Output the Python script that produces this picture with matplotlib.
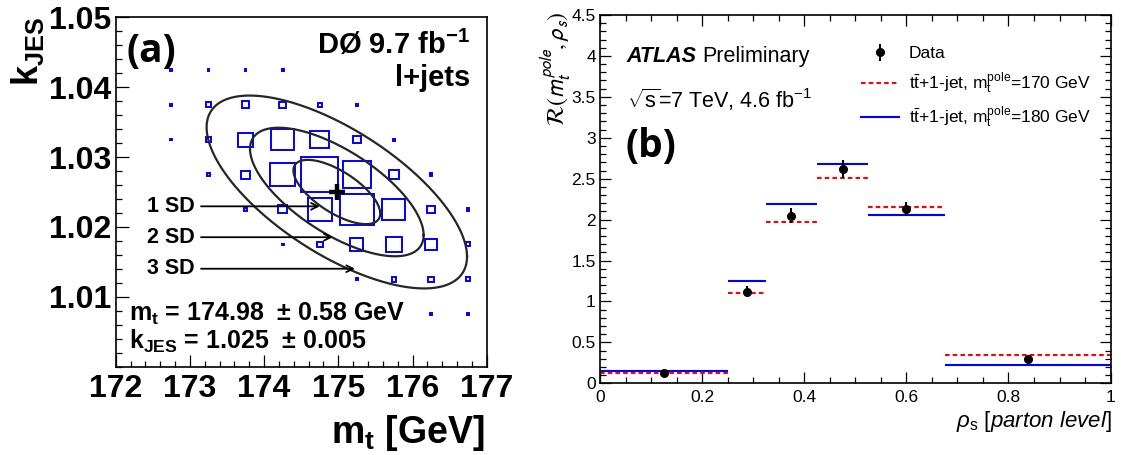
"""Two-panel top-mass figure: D0 (mt, kJES) likelihood boxes and ATLAS R(mt, rho_s)."""

import matplotlib
import matplotlib.pyplot as plt
import numpy as np
from matplotlib.lines import Line2D
from matplotlib.patches import Rectangle
from matplotlib.ticker import FuncFormatter, MultipleLocator

matplotlib.use("Agg")

plt.rcParams.update({
    "font.family": ["Liberation Sans", "DejaVu Sans"],
    "mathtext.fontset": "custom",
    "mathtext.rm": "Liberation Sans",
    "mathtext.it": "Liberation Sans:italic",
    "mathtext.bf": "Liberation Sans:bold",
    "mathtext.sf": "Liberation Sans",
})

# ---- panel (a): D0 l+jets, box sizes (relative to largest) ----
MT_CENTERS = [172.75, 173.25, 173.75, 174.25, 174.75, 175.25, 175.75, 176.25, 176.75]
KJES_CENTERS = [1.0425, 1.0375, 1.0325, 1.0275, 1.0225, 1.0175, 1.0125, 1.0075]
BOX_FRACTION = [
    [0.05, 0.05, 0.05, 0.05, 0.00, 0.00, 0.00, 0.00, 0.00],
    [0.05, 0.14, 0.20, 0.17, 0.11, 0.05, 0.00, 0.00, 0.00],
    [0.05, 0.13, 0.40, 0.62, 0.50, 0.20, 0.06, 0.00, 0.00],
    [0.00, 0.06, 0.23, 0.67, 1.00, 0.75, 0.27, 0.07, 0.00],
    [0.00, 0.00, 0.07, 0.23, 0.65, 0.90, 0.62, 0.22, 0.07],
    [0.00, 0.00, 0.00, 0.05, 0.15, 0.35, 0.45, 0.30, 0.11],
    [0.00, 0.00, 0.00, 0.00, 0.00, 0.06, 0.13, 0.14, 0.11],
    [0.00, 0.00, 0.00, 0.00, 0.00, 0.00, 0.00, 0.05, 0.05],
]
MT_BIN = 0.5
KJES_BIN = 0.005

MT_FIT = 174.98
KJES_FIT = 1.025
MT_SIGMA = 0.585
KJES_SIGMA = 0.0046
CORRELATION = -0.67

SD_LEVELS = [1, 2, 3]
SD_ARROW_Y = [1.02295, 1.01853, 1.01402]
SD_ARROW_END = [174.75, 174.925, 175.225]

# ---- panel (b): ATLAS R(mt_pole, rho_s) ----
RHO_EDGES = [0.0, 0.25, 0.325, 0.425, 0.525, 0.675, 1.0]
DATA_R = [0.12, 1.12, 2.05, 2.62, 2.13, 0.30]
DATA_ERR = [0.03, 0.065, 0.095, 0.11, 0.09, 0.03]
PRED_170 = [0.13, 1.105, 1.975, 2.505, 2.15, 0.35]
PRED_180 = [0.15, 1.25, 2.19, 2.68, 2.06, 0.22]

W, H = 1121, 455
fig = plt.figure(figsize=(W / 100, H / 100), dpi=100)


def px_axes(left, top, right, bottom):
    return [left / W, 1 - bottom / H, (right - left) / W, (bottom - top) / H]


# ================= panel (a) =================
ax1 = fig.add_axes(px_axes(115.7, 17.3, 486.7, 366.7))
ax1.set_xlim(172, 177)
ax1.set_ylim(1.0, 1.05)

for j, kj in enumerate(KJES_CENTERS):
    for i, mt in enumerate(MT_CENTERS):
        frac = BOX_FRACTION[j][i]
        if frac <= 0:
            continue
        w = frac * MT_BIN
        h = frac * KJES_BIN
        ax1.add_patch(Rectangle((mt - w / 2, kj - h / 2), w, h, fill=False,
                                edgecolor="#0000ff", linewidth=1.4))

t = np.linspace(0, 2 * np.pi, 400)
for n in SD_LEVELS:
    ex = MT_FIT + n * MT_SIGMA * np.cos(t)
    ey = KJES_FIT + n * KJES_SIGMA * (CORRELATION * np.cos(t)
                                      + np.sqrt(1 - CORRELATION ** 2) * np.sin(t))
    ax1.plot(ex, ey, color="#262626", linewidth=1.6)

ax1.plot([MT_FIT], [KJES_FIT], marker="+", color="black", markersize=11,
         markeredgewidth=3.2)

for n, y, xend in zip(SD_LEVELS, SD_ARROW_Y, SD_ARROW_END):
    ax1.annotate("", xy=(xend, y), xytext=(173.15, y),
                 arrowprops=dict(arrowstyle="->", color="black", lw=1.3,
                                 mutation_scale=12, shrinkA=0, shrinkB=0))
    ax1.text(173.07, y, f"{n} SD", ha="right", va="center", fontsize=15.5,
             fontweight="bold")

ax1.text(0.955, 0.9207, r"DØ 9.7 fb$^{\mathbf{-1}}$", transform=ax1.transAxes,
         ha="right", va="center", fontsize=21, fontweight="bold")
ax1.text(0.955, 0.8255, "l+jets", transform=ax1.transAxes,
         ha="right", va="center", fontsize=21, fontweight="bold")
ax1.text(0.0296, 0.9016, "(a)", transform=ax1.transAxes, ha="left", va="center",
         fontsize=28, fontweight="bold", family=["Open Sans", "DejaVu Sans"])
ax1.text(0.0367, 0.1308, r"m$_{\mathbf{t}}$ = 174.98  ± 0.58 GeV",
         transform=ax1.transAxes, ha="left", va="baseline", fontsize=18,
         fontweight="bold")
ax1.text(0.0367, 0.0498, r"k$_{\mathbf{JES}}$ = 1.025  ± 0.005",
         transform=ax1.transAxes, ha="left", va="baseline", fontsize=18,
         fontweight="bold")

ax1.set_xticks([172, 173, 174, 175, 176, 177])
ax1.set_yticks([1.01, 1.02, 1.03, 1.04, 1.05])
ax1.xaxis.set_minor_locator(MultipleLocator(0.2))
ax1.yaxis.set_minor_locator(MultipleLocator(0.002))
ax1.yaxis.set_major_formatter(FuncFormatter(lambda v, p: f"{v:.2f}"))
ax1.tick_params(which="both", direction="in", top=False, right=False,
                width=0.9, labelsize=23)
ax1.tick_params(which="major", length=9)
ax1.tick_params(which="minor", length=4)
ax1.tick_params(axis="x", pad=5)
ax1.tick_params(axis="y", pad=3)
for lab in ax1.get_xticklabels() + ax1.get_yticklabels():
    lab.set_fontweight("bold")
for sp in ax1.spines.values():
    sp.set_linewidth(1.2)

fig.text(485 / W, 1 - 433 / H, r"m$_{\mathbf{t}}$ [GeV]", ha="right", va="center",
         fontsize=27, fontweight="bold")
fig.text(28 / W, 1 - 17 / H, r"k$_{\mathbf{JES}}$", rotation=90, ha="center",
         va="top", fontsize=26, fontweight="bold")

# ================= panel (b) =================
ax2 = fig.add_axes(px_axes(600, 15, 1110.6, 383.3))
ax2.set_xlim(0, 1)
ax2.set_ylim(0, 4.5)

edges = np.array(RHO_EDGES)
centers = 0.5 * (edges[:-1] + edges[1:])
dash = (0, (2.2, 1.5))
ax2.hlines(PRED_180, edges[:-1], edges[1:], colors="#0000ff", linewidth=1.5)
ax2.hlines(PRED_170, edges[:-1], edges[1:], colors="#ff0000", linewidth=1.5,
           linestyles=[dash])
data = ax2.errorbar(centers, DATA_R, yerr=DATA_ERR, fmt="o", color="black",
                    markersize=5.5, elinewidth=1.5, capsize=0)

handles = [
    data,
    Line2D([], [], color="#ff0000", linewidth=1.5, linestyle=dash),
    Line2D([], [], color="#0000ff", linewidth=1.5),
]
labels = [
    "Data",
    r"t$\bar{\rm t}$+1-jet, m$_{\rm t}^{\rm pole}$=170 GeV",
    r"t$\bar{\rm t}$+1-jet, m$_{\rm t}^{\rm pole}$=180 GeV",
]
ax2.legend(handles, labels, loc="upper left", bbox_to_anchor=(0.511, 0.915),
           frameon=False, fontsize=12.5, handlelength=2.2, handletextpad=0.55,
           labelspacing=0.5, borderaxespad=0, borderpad=0)

atl = ax2.text(0.0523, 0.8716, "ATLAS", transform=ax2.transAxes, ha="left",
               va="baseline", fontsize=15.5, fontweight="bold", fontstyle="italic")
ax2.annotate("Preliminary", xy=(1, 0), xycoords=atl, xytext=(4, 0),
             textcoords="offset points", ha="left", va="bottom", fontsize=15.5)
ax2.text(0.0523, 0.747, r"$\sqrt{\rm s}$=7 TeV, 4.6 fb$^{-1}$",
         transform=ax2.transAxes, ha="left", va="baseline", fontsize=15.5)
ax2.text(0.049, 0.642, "(b)", transform=ax2.transAxes, ha="left", va="center",
         fontsize=28, fontweight="bold", family=["Open Sans", "DejaVu Sans"])

ax2.xaxis.set_major_locator(MultipleLocator(0.2))
ax2.xaxis.set_minor_locator(MultipleLocator(0.05))
ax2.yaxis.set_major_locator(MultipleLocator(0.5))
ax2.yaxis.set_minor_locator(MultipleLocator(0.1))
ax2.xaxis.set_major_formatter(FuncFormatter(lambda v, p: f"{v:g}"))
ax2.yaxis.set_major_formatter(FuncFormatter(lambda v, p: f"{v:g}"))
ax2.tick_params(which="both", direction="in", top=True, right=True,
                width=0.9, labelsize=12.5)
ax2.tick_params(which="major", length=8)
ax2.tick_params(which="minor", length=4)
ax2.tick_params(axis="x", pad=5)
ax2.tick_params(axis="y", pad=3)
for sp in ax2.spines.values():
    sp.set_linewidth(1.2)

fig.text(1111.5 / W, 1 - 421.7 / H, r"$\rho_{\rm s}$ [$\mathit{parton\ level}$]",
         ha="right", va="center", fontsize=16)
fig.text(556 / W, 1 - 12 / H, r"$\mathcal{R}(m_t^{pole},\rho_s)$", rotation=90,
         ha="center", va="top", fontsize=17, math_fontfamily="stixsans")

fig.savefig("out.png", dpi=100)
plt.close(fig)
